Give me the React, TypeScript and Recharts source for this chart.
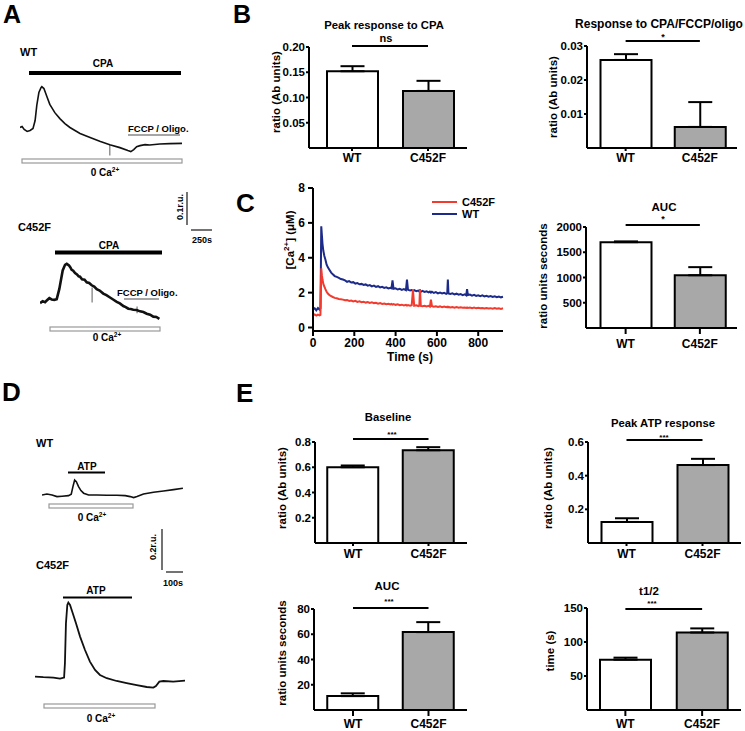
import React from 'react';
import {
  BarChart, Bar, XAxis, YAxis, ErrorBar, Cell, ReferenceLine,
  LineChart, Line, Legend,
} from 'recharts';

const FONT = "'Liberation Sans', Arial, Helvetica, sans-serif";

// ---------- bar chart data ----------
const groups = ['WT', 'C452F'];
const peakCpaMean = [0.152, 0.113];
const peakCpaErr = [0.010, 0.020];
const respCpaMean = [0.0259, 0.0062];
const respCpaErr = [0.0017, 0.0073];
const aucCpaMean = [1700, 1045];
const aucCpaErr = [15, 160];
const baselineMean = [0.60, 0.735];
const baselineErr = [0.014, 0.024];
const peakAtpMean = [0.125, 0.463];
const peakAtpErr = [0.022, 0.037];
const aucAtpMean = [11, 61.7];
const aucAtpErr = [2.2, 7.9];
const thalfMean = [74, 114];
const thalfErr = [3, 6];

const ticksPeakCpa = [0.05, 0.10, 0.15, 0.20];
const ticksRespCpa = [0.01, 0.02, 0.03];
const ticksAucCpa = [500, 1000, 1500, 2000];
const ticksBaseline = [0.2, 0.4, 0.6, 0.8];
const ticksPeakAtp = [0.2, 0.4, 0.6];
const ticksAucAtp = [20, 40, 60, 80];
const ticksThalf = [50, 100, 150];

// significance bar levels (data units)
const sigPeakCpa = 0.202;
const sigRespCpa = 0.0315;
const sigAucCpa = 2040;
const sigBaseline = 0.824;
const sigPeakAtp = 0.612;
const sigAucAtp = 80.8;
const sigThalf = 148.5;

// ---------- panel C time course ----------
const cTime = [0, 8, 16, 24, 32, 36, 38, 40, 43, 46, 50, 55, 60, 66, 72, 80, 88, 96, 105, 115, 125, 135, 145, 155, 165, 175, 185, 195, 205, 215, 225, 235, 245, 255, 265, 275, 285, 295, 305, 315, 325, 335, 345, 355, 365, 375, 380, 385, 390, 400, 410, 420, 430, 440, 450, 455, 460, 470, 478, 484, 490, 500, 510, 515, 518, 522, 530, 540, 550, 560, 566, 571, 576, 585, 595, 605, 615, 625, 635, 645, 650, 653, 656, 665, 675, 685, 695, 705, 715, 725, 735, 742, 746, 750, 760, 770, 780, 790, 800, 810, 820, 830, 840, 850, 860, 870, 880, 890, 900, 910, 920];
const cWT = [1.05, 1.10, 0.98, 1.12, 1.02, 1.10, 3.2, 5.8, 5.3, 4.8, 4.4, 4.1, 3.9, 3.6, 3.45, 3.3, 3.15, 3.05, 2.95, 2.9, 2.85, 2.78, 2.75, 2.7, 2.62, 2.66, 2.58, 2.6, 2.52, 2.55, 2.48, 2.5, 2.44, 2.47, 2.4, 2.43, 2.36, 2.4, 2.33, 2.37, 2.3, 2.33, 2.27, 2.3, 2.24, 2.28, 2.25, 2.7, 2.22, 2.25, 2.18, 2.22, 2.16, 2.2, 2.14, 2.75, 2.16, 2.12, 2.15, 2.1, 2.14, 2.08, 2.12, 2.06, 2.1, 2.05, 2.1, 2.04, 2.08, 2.02, 2.06, 2.0, 2.05, 1.98, 2.03, 1.96, 2.0, 1.95, 1.99, 1.93, 1.97, 2.75, 1.95, 1.92, 1.96, 1.9, 1.94, 1.88, 1.92, 1.86, 1.9, 1.85, 2.2, 1.86, 1.89, 1.83, 1.87, 1.81, 1.85, 1.8, 1.84, 1.78, 1.82, 1.77, 1.8, 1.75, 1.79, 1.74, 1.78, 1.73, 1.76];
const cC452F = [0.7, 0.75, 0.68, 0.74, 0.7, 0.72, 2.0, 3.4, 3.0, 2.75, 2.5, 2.35, 2.2, 2.05, 1.95, 1.85, 1.8, 1.75, 1.7, 1.68, 1.64, 1.62, 1.6, 1.56, 1.58, 1.52, 1.55, 1.5, 1.53, 1.47, 1.5, 1.45, 1.48, 1.43, 1.46, 1.41, 1.44, 1.4, 1.42, 1.37, 1.4, 1.35, 1.38, 1.34, 1.36, 1.32, 1.35, 1.31, 1.34, 1.3, 1.33, 1.28, 1.31, 1.27, 1.3, 1.26, 1.29, 1.25, 1.28, 2.15, 1.25, 1.27, 1.23, 1.26, 2.2, 1.24, 1.22, 1.25, 1.21, 1.24, 1.2, 1.6, 1.22, 1.19, 1.22, 1.18, 1.21, 1.17, 1.2, 1.16, 1.19, 1.16, 1.18, 1.15, 1.18, 1.14, 1.17, 1.13, 1.16, 1.13, 1.15, 1.12, 1.15, 1.12, 1.14, 1.11, 1.14, 1.1, 1.13, 1.1, 1.12, 1.09, 1.12, 1.09, 1.11, 1.08, 1.11, 1.08, 1.1, 1.07, 1.1];
const cTicksX = [0, 200, 400, 600, 800];
const cTicksY = [0, 2, 4, 6, 8];
const cLegendOrder = ['C452F', 'WT'];

// ---------- panel A traces (time s, ratio r.u.) ----------
const aWtTime = [0, 25, 50, 85, 120, 155, 180, 200, 225, 250, 260, 285, 320, 355, 415, 475, 535, 595, 655, 715, 835, 950, 1070, 1190, 1285, 1320, 1355, 1390, 1430, 1490, 1545, 1665, 1785, 1930];
const aWtRatio = [0.600, 0.603, 0.594, 0.588, 0.591, 0.597, 0.621, 0.667, 0.706, 0.721, 0.724, 0.718, 0.694, 0.670, 0.645, 0.627, 0.612, 0.600, 0.591, 0.582, 0.570, 0.558, 0.548, 0.539, 0.530, 0.527, 0.533, 0.542, 0.545, 0.548, 0.547, 0.550, 0.551, 0.552];
const aMutTime = [0, 32, 60, 80, 111, 139, 170, 199, 230, 270, 298, 318, 345, 360, 377, 395, 417, 440, 460, 476, 500, 530, 556, 585, 615, 645, 675, 710, 753, 790, 833, 870, 913, 950, 991, 1020, 1051, 1080, 1110, 1150, 1190, 1230, 1270, 1310, 1348, 1385, 1420];
const aMutRatio = [0.583, 0.589, 0.586, 0.591, 0.598, 0.594, 0.593, 0.595, 0.626, 0.682, 0.699, 0.702, 0.697, 0.692, 0.684, 0.681, 0.674, 0.670, 0.664, 0.663, 0.655, 0.654, 0.646, 0.644, 0.637, 0.633, 0.625, 0.621, 0.612, 0.607, 0.600, 0.594, 0.587, 0.582, 0.574, 0.571, 0.566, 0.565, 0.563, 0.562, 0.558, 0.556, 0.551, 0.548, 0.542, 0.541, 0.535];
const aWtMarks = [{ t: 1070, y0: 0.515, y1: 0.548 }];
const aMutMarks = [{ t: 620, y0: 0.585, y1: 0.630 }, { t: 1155, y0: 0.552, y1: 0.573 }];

// ---------- panel D traces ----------
const dWtTime = [0, 29, 59, 88, 118, 156, 172, 182, 192, 202, 215, 229, 245, 274, 323, 382, 441, 490, 519, 539, 559, 597, 656, 715, 774, 829];
const dWtRatio = [0.525, 0.530, 0.525, 0.517, 0.519, 0.522, 0.529, 0.567, 0.600, 0.592, 0.567, 0.547, 0.534, 0.525, 0.525, 0.524, 0.524, 0.522, 0.517, 0.512, 0.517, 0.530, 0.539, 0.545, 0.552, 0.559];
const dMutTime = [0, 49, 108, 147, 171, 176, 182, 190, 196, 206, 222, 241, 265, 294, 323, 353, 382, 422, 480, 539, 598, 657, 696, 711, 731, 755, 813, 882];
const dMutRatio = [0.517, 0.514, 0.512, 0.507, 0.512, 0.584, 0.784, 0.875, 0.887, 0.875, 0.834, 0.784, 0.717, 0.650, 0.592, 0.550, 0.525, 0.509, 0.495, 0.484, 0.474, 0.465, 0.462, 0.470, 0.492, 0.495, 0.492, 0.497];

const barFills = ['#ffffff', '#a8a8a8'];
const WT_BLUE = '#1c2a8a';
const MUT_RED = '#f23a2e';

type Layout = { axisX: number; topY: number; rightX: number; baseY: number; c1: number; c2: number; xTick: number; xMargin: number };

function BarPanel(props: { means: number[]; errs: number[]; ticks: number[]; decimals: number; layout: Layout; sig: number }) {
  const { means, errs, ticks, decimals, layout, sig } = props;
  const { axisX, topY, rightX, baseY, c1, c2, xTick, xMargin } = layout;
  const data = groups.map((g, i) => ({ name: g, value: means[i], err: [0, errs[i]] }));
  const padL = 70, padT = 50, padR = 4;
  const padB = Math.min(30, 731 - baseY);
  const W = rightX - axisX + padL + padR;
  const H = baseY - topY + padT + padB;
  const bw = c2 - c1;
  const pl = Math.max(0, c1 - bw / 2 - axisX);
  const pr = Math.max(0, rightX - (c2 + bw / 2));
  const tickStyle = { fill: '#000', fontSize: 12, fontWeight: 'bold' as const, fontFamily: FONT };
  const yTickStyle = { fill: '#000', fontSize: 11.5, fontWeight: 'bold' as const, fontFamily: FONT };
  return (
    <div style={{ position: 'absolute', left: axisX - padL, top: topY - padT, width: W, height: H }}>
      <BarChart width={W} height={H} data={data} margin={{ top: padT, right: padR, bottom: 0, left: 0 }}>
        <XAxis dataKey="name" height={padB} padding={{ left: pl, right: pr }} interval={0}
          axisLine={{ stroke: '#000', strokeWidth: 2 }} tickLine={{ stroke: '#000', strokeWidth: 2 }}
          tickSize={xTick} tickMargin={xMargin} tick={tickStyle} />
        <YAxis width={padL} type="number" domain={[0, ticks[ticks.length - 1]]} ticks={ticks} interval={0}
          axisLine={{ stroke: '#000', strokeWidth: 2 }} tickLine={{ stroke: '#000', strokeWidth: 2 }}
          tickSize={3} tickMargin={1} tick={yTickStyle}
          tickFormatter={(v: number) => v.toFixed(decimals)} />
        <Bar dataKey="value" barSize={51} stroke="#000" strokeWidth={2} isAnimationActive={false}>
          {data.map((d, i) => <Cell key={d.name} fill={barFills[i]} />)}
          <ErrorBar dataKey="err" width={12} stroke="#000" strokeWidth={2} direction="y" />
        </Bar>
        <ReferenceLine segment={[{ x: 'WT', y: sig }, { x: 'C452F', y: sig }]} stroke="#000" strokeWidth={2} ifOverflow="visible" />
      </BarChart>
    </div>
  );
}

type Box = { x: number; y: number; w: number; h: number };

function Trace(props: { times: number[]; values: number[]; xDomain: [number, number]; yDomain: [number, number]; box: Box; width: number; marks?: { t: number; y0: number; y1: number }[] }) {
  const { times, values, xDomain, yDomain, box, width, marks } = props;
  const data = times.map((t, i) => ({ t, v: values[i] }));
  return (
    <div style={{ position: 'absolute', left: box.x, top: box.y, width: box.w, height: box.h }}>
      <LineChart width={box.w} height={box.h} data={data} margin={{ top: 0, right: 0, bottom: 0, left: 0 }}>
        <XAxis type="number" dataKey="t" domain={xDomain} hide />
        <YAxis type="number" domain={yDomain} hide />
        {(marks || []).map((m, i) => (
          <ReferenceLine key={i} segment={[{ x: m.t, y: m.y0 }, { x: m.t, y: m.y1 }]} stroke="#777" strokeWidth={1.2} ifOverflow="visible" />
        ))}
        <Line dataKey="v" type="linear" dot={false} stroke="#111" strokeWidth={width} isAnimationActive={false} />
      </LineChart>
    </div>
  );
}

function CaLegend(props: any) {
  const items = [...(props.payload || [])].sort(
    (a: any, b: any) => cLegendOrder.indexOf(a.value) - cLegendOrder.indexOf(b.value),
  );
  return (
    <div style={{ fontFamily: FONT, fontWeight: 'bold', fontSize: 11, lineHeight: '12px' }}>
      {items.map((p: any) => (
        <div key={p.value} style={{ display: 'flex', alignItems: 'center', height: 12 }}>
          <div style={{ width: 25, height: 2.5, background: p.color, marginRight: 5 }} />
          <span style={{ color: '#000' }}>{p.value}</span>
        </div>
      ))}
    </div>
  );
}

function CaPanel() {
  const data = cTime.map((t, i) => ({ t, wt: cWT[i], mut: cC452F[i] }));
  const axisX = 313, topY = 188, rightX = 503, baseY = 331;
  const padL = 60, padT = 20, padR = 10, padB = 40;
  const W = rightX - axisX + padL + padR;
  const H = baseY - topY + padT + padB;
  const tickStyle = { fill: '#000', fontSize: 12, fontWeight: 'bold' as const, fontFamily: FONT };
  return (
    <div style={{ position: 'absolute', left: axisX - padL, top: topY - padT, width: W, height: H }}>
      <LineChart width={W} height={H} data={data} margin={{ top: padT, right: padR, bottom: 0, left: 0 }}>
        <XAxis type="number" dataKey="t" domain={[0, 920]} ticks={cTicksX} height={padB} interval={0}
          axisLine={{ stroke: '#000', strokeWidth: 2 }} tickLine={{ stroke: '#000', strokeWidth: 2 }}
          tickSize={5} tickMargin={2} tick={tickStyle} />
        <YAxis type="number" domain={[-0.2, 8]} ticks={cTicksY} width={padL} interval={0}
          axisLine={{ stroke: '#000', strokeWidth: 2 }} tickLine={{ stroke: '#000', strokeWidth: 2 }}
          tickSize={5} tickMargin={3} tick={tickStyle} />
        <Line name="WT" dataKey="wt" type="linear" dot={false} stroke={WT_BLUE} strokeWidth={2} isAnimationActive={false} />
        <Line name="C452F" dataKey="mut" type="linear" dot={false} stroke={MUT_RED} strokeWidth={2} isAnimationActive={false} />
        <Legend layout="vertical" align="center" verticalAlign="middle" content={<CaLegend />}
          wrapperStyle={{ position: 'absolute', left: 432 - (axisX - padL), top: 196 - (topY - padT), width: 80, height: 24 }} />
      </LineChart>
    </div>
  );
}

const lp = (axisX: number, topY: number, rightX: number, baseY: number, c1: number, c2: number, xTick: number, xMargin: number): Layout =>
  ({ axisX, topY, rightX, baseY, c1, c2, xTick, xMargin });

function Ca2(props: { x: number; y: number; size: number; anchor?: string }) {
  return (
    <text x={props.x} y={props.y} fontSize={props.size} fontWeight="bold" textAnchor={props.anchor || 'middle'}>
      0 Ca<tspan fontSize={props.size * 0.65} dy={-props.size * 0.4}>2+</tspan>
    </text>
  );
}

function YLabel(props: { x: number; y: number; children: React.ReactNode }) {
  return (
    <text transform={`translate(${props.x},${props.y}) rotate(-90)`} textAnchor="middle" dominantBaseline="central" fontSize={11.5} fontWeight="bold">
      {props.children}
    </text>
  );
}

function Overlay() {
  return (
    <svg width={745} height={731} style={{ position: 'absolute', left: 0, top: 0, pointerEvents: 'none', fontFamily: FONT }}>
      {/* panel letters */}
      <text x={3} y={23} fontSize={25} fontWeight="bold">A</text>
      <text x={233} y={23} fontSize={25} fontWeight="bold">B</text>
      <text x={236} y={212} fontSize={26} fontWeight="bold">C</text>
      <text x={2} y={401} fontSize={26} fontWeight="bold">D</text>
      <text x={236} y={402} fontSize={26} fontWeight="bold">E</text>

      {/* Panel A WT */}
      <text x={20} y={56} fontSize={11} fontWeight="bold">WT</text>
      <text x={103} y={67} fontSize={10} fontWeight="bold" textAnchor="middle">CPA</text>
      <rect x={29} y={71} width={152} height={4} fill="#000" />
      <text x={128} y={131.5} fontSize={9.5} fontWeight="bold">FCCP / Oligo.</text>
      <line x1={128} y1={135} x2={180} y2={135} stroke="#888" strokeWidth={1.5} />
      <rect x={22} y={159} width={160} height={4} fill="#fff" stroke="#999" strokeWidth={1.2} />
      <Ca2 x={105} y={176} size={10} />
      <line x1={187} y1={192} x2={187} y2={225} stroke="#444" strokeWidth={1.5} />
      <text transform="translate(180,207) rotate(-90)" textAnchor="middle" dominantBaseline="central" fontSize={9} fontWeight="bold">0.1r.u.</text>
      <line x1={191} y1={230} x2={212} y2={230} stroke="#444" strokeWidth={1.5} />
      <text x={202} y={243} fontSize={9} fontWeight="bold" textAnchor="middle">250s</text>

      {/* Panel A C452F */}
      <text x={18} y={231} fontSize={11} fontWeight="bold">C452F</text>
      <text x={109} y={249} fontSize={10} fontWeight="bold" textAnchor="middle">CPA</text>
      <rect x={55} y={250.5} width={107} height={4} fill="#000" />
      <text x={117} y={295.5} fontSize={9.5} fontWeight="bold">FCCP / Oligo.</text>
      <line x1={124} y1={299} x2={159} y2={299} stroke="#888" strokeWidth={1.5} />
      <rect x={50} y={327} width={110} height={4} fill="#fff" stroke="#999" strokeWidth={1.2} />
      <Ca2 x={107} y={341} size={10} />

      {/* Panel D WT */}
      <text x={36} y={447} fontSize={11} fontWeight="bold">WT</text>
      <text x={87} y={470} fontSize={10} fontWeight="bold" textAnchor="middle">ATP</text>
      <line x1={68} y1={472.5} x2={105} y2={472.5} stroke="#000" strokeWidth={2} />
      <rect x={49} y={504} width={84} height={4} fill="#fff" stroke="#999" strokeWidth={1.2} />
      <Ca2 x={92} y={521} size={10} />
      <line x1={162} y1={529} x2={162} y2={570} stroke="#444" strokeWidth={1.5} />
      <text transform="translate(153,547) rotate(-90)" textAnchor="middle" dominantBaseline="central" fontSize={9} fontWeight="bold">0.2r.u.</text>
      <line x1={166} y1={572} x2={183} y2={572} stroke="#444" strokeWidth={1.5} />
      <text x={173} y={586} fontSize={9} fontWeight="bold" textAnchor="middle">100s</text>

      {/* Panel D C452F */}
      <text x={36} y={569} fontSize={11} fontWeight="bold">C452F</text>
      <text x={96} y={594} fontSize={10} fontWeight="bold" textAnchor="middle">ATP</text>
      <line x1={63} y1={597.5} x2={132} y2={597.5} stroke="#000" strokeWidth={2} />
      <rect x={44} y={704} width={111} height={4} fill="#fff" stroke="#999" strokeWidth={1.2} />
      <Ca2 x={101} y={722} size={10} />

      {/* Bar panel titles & significance */}
      <text x={384} y={29} fontSize={11.3} fontWeight="bold" textAnchor="middle">Peak response to CPA</text>
      <text x={386} y={42} fontSize={11} fontWeight="bold" textAnchor="middle">ns</text>
      <text x={659} y={28} fontSize={12} fontWeight="bold" textAnchor="middle">Response to CPA/FCCP/oligo</text>
      <text x={663} y={40} fontSize={9} fontWeight="bold" textAnchor="middle">*</text>
      <text x={664} y={211} fontSize={11.5} fontWeight="bold" textAnchor="middle">AUC</text>
      <text x={663} y={222} fontSize={9} fontWeight="bold" textAnchor="middle">*</text>
      <text x={388} y={421} fontSize={11.3} fontWeight="bold" textAnchor="middle">Baseline</text>
      <text x={392} y={437} fontSize={8} fontWeight="bold" textAnchor="middle">***</text>
      <text x={663} y={427} fontSize={11.3} fontWeight="bold" textAnchor="middle">Peak ATP response</text>
      <text x={664} y={440} fontSize={8} fontWeight="bold" textAnchor="middle">***</text>
      <text x={387} y={590} fontSize={11.5} fontWeight="bold" textAnchor="middle">AUC</text>
      <text x={389} y={604} fontSize={8} fontWeight="bold" textAnchor="middle">***</text>
      <text x={649} y={595} fontSize={11.5} fontWeight="bold" textAnchor="middle">t1/2</text>
      <text x={652} y={606} fontSize={8} fontWeight="bold" textAnchor="middle">***</text>

      {/* axis labels */}
      <YLabel x={276} y={92}>ratio (Ab units)</YLabel>
      <YLabel x={553} y={97}>ratio (Ab units)</YLabel>
      <YLabel x={543} y={276}>ratio units seconds</YLabel>
      <YLabel x={282} y={488}>ratio (Ab units)</YLabel>
      <YLabel x={548} y={488}>ratio (Ab units)</YLabel>
      <YLabel x={282} y={653}>ratio units seconds</YLabel>
      <YLabel x={550} y={651}>time (s)</YLabel>
      <YLabel x={290} y={240}>
        [Ca<tspan fontSize={8} dy={-4}>2+</tspan><tspan dy={4}>] (μM)</tspan>
      </YLabel>
      <text x={410} y={361} fontSize={12} fontWeight="bold" textAnchor="middle">Time (s)</text>
    </svg>
  );
}

export default function App() {
  return (
    <div style={{ position: 'absolute', left: 0, top: 0, width: 745, height: 731, background: '#fff', fontFamily: FONT, overflow: 'hidden' }}>
      <Trace times={aWtTime} values={aWtRatio} xDomain={[0, 1930]} yDomain={[0.45, 0.75]} box={{ x: 20, y: 77.5, w: 162, h: 99 }} width={1.6} marks={aWtMarks} />
      <Trace times={aMutTime} values={aMutRatio} xDomain={[0, 1430]} yDomain={[0.5, 0.75]} box={{ x: 40, y: 247.5, w: 120.2, h: 82.5 }} width={2.6} marks={aMutMarks} />
      <Trace times={dWtTime} values={dWtRatio} xDomain={[0, 830]} yDomain={[0.45, 0.65]} box={{ x: 41.7, y: 470, w: 141.1, h: 40 }} width={1.6} />
      <Trace times={dMutTime} values={dMutRatio} xDomain={[0, 882]} yDomain={[0.45, 0.9]} box={{ x: 35, y: 600, w: 150, h: 90 }} width={1.8} />

      <BarPanel means={peakCpaMean} errs={peakCpaErr} ticks={ticksPeakCpa} decimals={2} sig={sigPeakCpa} layout={lp(309, 47, 467, 148, 352, 428, 3, 2)} />
      <BarPanel means={respCpaMean} errs={respCpaErr} ticks={ticksRespCpa} decimals={2} sig={sigRespCpa} layout={lp(587, 46, 737, 148, 626.5, 702.5, 3, 2)} />
      <CaPanel />
      <BarPanel means={aucCpaMean} errs={aucCpaErr} ticks={ticksAucCpa} decimals={0} sig={sigAucCpa} layout={lp(586, 227, 737, 328, 626.5, 702.5, 6, 5)} />
      <BarPanel means={baselineMean} errs={baselineErr} ticks={ticksBaseline} decimals={1} sig={sigBaseline} layout={lp(315, 442, 467, 543, 353, 428.5, 3, 3)} />
      <BarPanel means={peakAtpMean} errs={peakAtpErr} ticks={ticksPeakAtp} decimals={1} sig={sigPeakAtp} layout={lp(588, 442, 741, 543, 626.5, 702.5, 3, 3)} />
      <BarPanel means={aucAtpMean} errs={aucAtpErr} ticks={ticksAucAtp} decimals={0} sig={sigAucAtp} layout={lp(314, 609, 467, 710, 353, 428.5, 6, 3)} />
      <BarPanel means={thalfMean} errs={thalfErr} ticks={ticksThalf} decimals={0} sig={sigThalf} layout={lp(587, 608, 741, 710, 625, 702, 6, 3)} />

      <Overlay />
    </div>
  );
}
